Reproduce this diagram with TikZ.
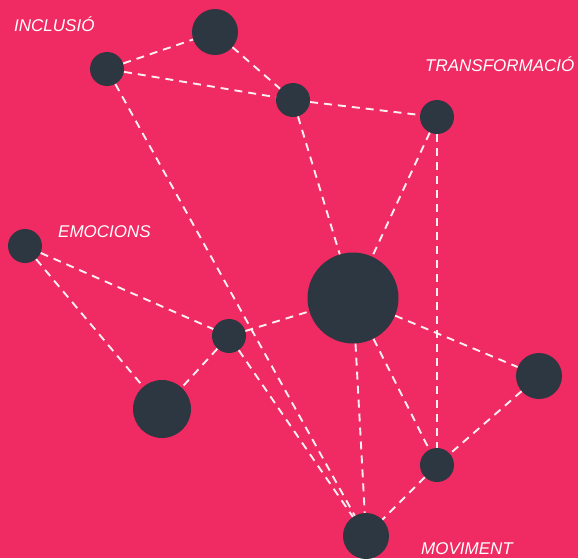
\documentclass[tikz,border=0pt]{standalone}
\usepackage{fontspec}
\setmainfont{Liberation Sans}
\definecolor{bgpink}{HTML}{F02A62}
\definecolor{dot}{HTML}{2D3741}
\begin{document}
\begin{tikzpicture}[x=1pt,y=-1pt,
  dotnode/.style={circle,fill=dot,inner sep=0pt,minimum size=#1},
  link/.style={draw=white,opacity=0.92,line width=1.9pt,dash pattern=on 8pt off 6pt},
  lbl/.style={anchor=base west,text=white,inner sep=0pt,font=\fontsize{17}{17}\selectfont\itshape}]
\fill[bgpink] (0,0) rectangle (578,558);
\useasboundingbox (0,0) rectangle (578,558);
\node[dotnode=46pt] (A) at (215,32) {};
\node[dotnode=34pt] (B) at (107,69) {};
\node[dotnode=34pt] (C) at (293,100) {};
\node[dotnode=34pt] (D) at (437,117) {};
\node[dotnode=34pt] (E) at (25,246) {};
\node[dotnode=91pt] (F) at (353,298) {};
\node[dotnode=34pt] (G) at (229,336) {};
\node[dotnode=58pt] (H) at (162,409) {};
\node[dotnode=46pt] (I) at (539,376) {};
\node[dotnode=34pt] (J) at (437,465) {};
\node[dotnode=46pt] (K) at (366,536) {};
\foreach \a/\b in {B/A,A/C,B/C,C/D,C/F,D/F,D/J,B/K,E/G,E/H,G/H,G/F,G/K,F/K,F/J,F/I,I/J,J/K}
  \draw[link] (\a) -- (\b);
\node[lbl] (l1) at (14,31) {INCLUSIÓ};
\node[lbl] (l2) at (425,71) {TRANSFORMACIÓ};
\node[lbl] (l3) at (58,237) {EMOCIONS};
\node[lbl] (l4) at (421,554) {MOVIMENT};
\end{tikzpicture}
\end{document}
